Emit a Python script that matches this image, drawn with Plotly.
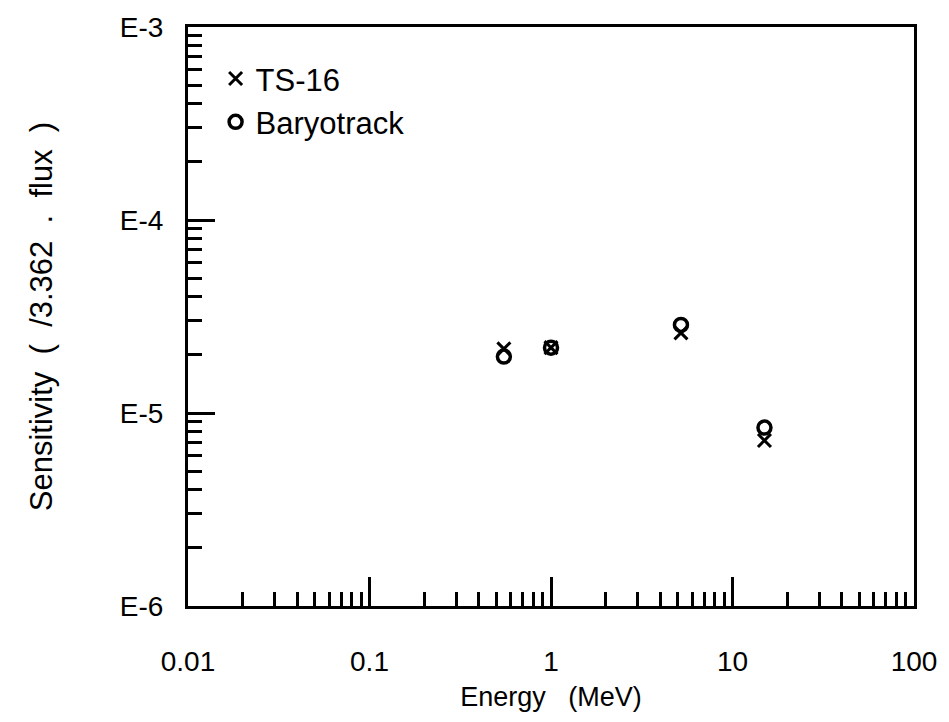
import plotly.graph_objects as go

# Data
energy_ts16 = [0.55, 1.0, 5.2, 15.0]
sens_ts16 = [2.15e-5, 2.18e-5, 2.60e-5, 7.2e-6]
energy_baryo = [0.55, 1.0, 5.2, 15.0]
sens_baryo = [1.96e-5, 2.18e-5, 2.86e-5, 8.4e-6]

x_major = [0.01, 0.1, 1, 10, 100]
x_major_text = ["0.01", "0.1", "1", "10", "100"]
y_major = [1e-6, 1e-5, 1e-4, 1e-3]
y_major_text = ["E-6", "E-5", "E-4", "E-3"]

x_minor = [m * 10 ** e for e in range(-2, 2) for m in range(2, 10)]
y_minor = [m * 10 ** e for e in range(-6, -3) for m in range(2, 10)]

FONT = "Liberation Sans, Arial, Helvetica, sans-serif"

fig = go.Figure()
fig.add_trace(go.Scatter(
    x=energy_ts16, y=sens_ts16, mode="markers", name="TS-16",
    legendgroup="a",
    marker=dict(symbol="x-thin-open", size=13, color="black",
                line=dict(width=3, color="black")),
))
fig.add_trace(go.Scatter(
    x=energy_baryo, y=sens_baryo, mode="markers", name="Baryotrack",
    legendgroup="b",
    marker=dict(symbol="circle-open", size=13, color="black",
                line=dict(width=3.5, color="black")),
))

fig.update_layout(
    width=949, height=722,
    margin=dict(l=188, r=29, t=22, b=116),
    paper_bgcolor="white", plot_bgcolor="white",
    font=dict(family=FONT, size=28, color="black"),
    showlegend=True,
    legend=dict(x=0.038, y=0.957, xanchor="left", yanchor="top",
                bgcolor="rgba(0,0,0,0)", font=dict(size=31),
                tracegroupgap=0, traceorder="grouped"),
    xaxis=dict(
        type="log", range=[-2, 2],
        tickvals=x_major, ticktext=x_major_text,
        tickfont=dict(size=28),
        ticks="inside", ticklen=29, tickwidth=2.5, tickcolor="black",
        showline=True, linewidth=3, linecolor="black", mirror=True,
        showgrid=False, zeroline=False,
        ticklabelstandoff=28,
        minor=dict(tickvals=x_minor, ticks="inside", ticklen=14,
                   tickwidth=2.5, tickcolor="black", showgrid=False),
        title=dict(text="Energy   (MeV)", font=dict(size=27), standoff=12),
    ),
    yaxis=dict(
        type="log", range=[-6, -3],
        tickvals=y_major, ticktext=y_major_text,
        tickfont=dict(size=28),
        ticks="inside", ticklen=27, tickwidth=2.5, tickcolor="black",
        showline=True, linewidth=3, linecolor="black", mirror=True,
        showgrid=False, zeroline=False,
        ticklabelstandoff=16,
        minor=dict(tickvals=y_minor, ticks="inside", ticklen=14,
                   tickwidth=2.5, tickcolor="black", showgrid=False),
        title=dict(text="Sensitivity  (  /3.362  .  flux  )", font=dict(size=31),
                   standoff=58),
    ),
)

fig.write_html("out.html")
